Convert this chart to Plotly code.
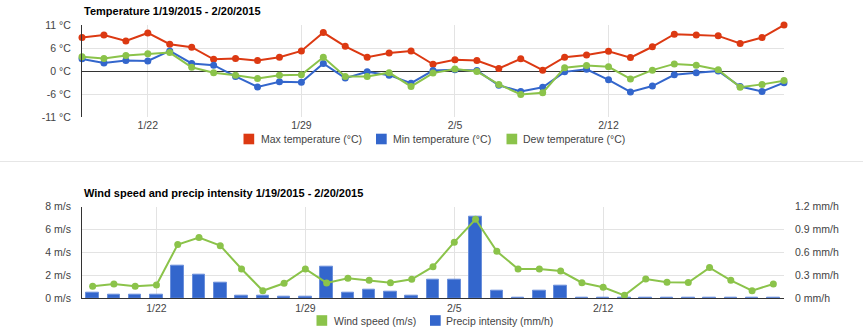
import plotly.graph_objects as go
import pandas as pd

dates = pd.date_range("2015-01-19", "2015-02-20", freq="D")

max_temp = [8.0, 8.6, 7.2, 9.1, 6.4, 5.7, 2.8, 3.0, 2.5, 3.3, 4.8, 9.2, 5.9, 3.3, 4.3, 4.8, 1.6,
            2.7, 2.5, 0.6, 2.9, 0.2, 3.3, 3.8, 4.7, 3.2, 5.8, 8.8, 8.6, 8.4, 6.6, 8.0, 11.0]
min_temp = [2.9, 1.9, 2.5, 2.4, 4.8, 1.8, 1.4, -1.3, -3.8, -2.6, -2.7, 1.8, -1.7, -0.2, -1.0, -2.9, 0.1,
            0.3, 0.1, -3.4, -4.9, -3.9, -0.2, 0.4, -2.1, -5.0, -3.6, -0.9, -0.4, 0.0, -3.7, -4.9, -2.8]
dew_temp = [3.4, 3.0, 3.7, 4.1, 4.4, 0.9, -0.4, -1.0, -1.8, -1.0, -0.9, 3.3, -1.3, -1.3, -0.4, -3.7, -0.5,
            0.5, -0.1, -3.2, -5.6, -5.2, 0.8, 1.3, 1.0, -1.9, 0.2, 1.7, 1.4, 0.3, -3.9, -3.2, -2.3]
wind = [1.05, 1.25, 1.05, 1.16, 4.7, 5.3, 4.6, 2.56, 0.66, 1.31, 2.56, 1.34, 1.75, 1.57, 1.36, 1.66, 2.76,
        4.9, 6.9, 4.1, 2.56, 2.56, 2.38, 1.36, 0.96, 0.26, 1.69, 1.4, 1.37, 2.68, 1.57, 0.67, 1.25]
precip = [0.079, 0.047, 0.047, 0.047, 0.43, 0.315, 0.205, 0.03, 0.039, 0.017, 0.017, 0.42, 0.073, 0.109,
          0.087, 0.039, 0.24, 0.244, 1.07, 0.096, 0.008, 0.096, 0.165, 0.004, 0.004, 0.004, 0.004, 0.004,
          0.004, 0.004, 0.004, 0.004, 0.004]

x_tick_vals = ["2015-01-22", "2015-01-29", "2015-02-05", "2015-02-12"]
x_tick_text = ["1/22", "1/29", "2/5", "2/12"]
temp_tick_vals = [-11, -5.5, 0, 5.5, 11]
temp_tick_text = ["-11 °C", "-6 °C", "0 °C", "6 °C", "11 °C"]
wind_tick_vals = [0, 2, 4, 6, 8]
wind_tick_text = ["0 m/s", "2 m/s", "4 m/s", "6 m/s", "8 m/s"]
precip_tick_vals = [0, 0.3, 0.6, 0.9, 1.2]
precip_tick_text = ["0 mm/h", "0.3 mm/h", "0.6 mm/h", "0.9 mm/h", "1.2 mm/h"]

RED = "#dc3912"
BLUE = "#3366cc"
GREEN = "#8bc34a"
W, H = 863, 333
FONT = "Liberation Sans, Arial, sans-serif"
TXT = "#444444"
GRID = "#e3e3e3"

def px(x):
    return x / W

def py(y):
    return 1 - y / H

fig = go.Figure()
for name, vals, col in [("Max temperature (°C)", max_temp, RED),
                        ("Min temperature (°C)", min_temp, BLUE),
                        ("Dew temperature (°C)", dew_temp, GREEN)]:
    fig.add_trace(go.Scatter(x=dates, y=vals, name=name, mode="lines+markers",
                             line=dict(color=col, width=2), marker=dict(color=col, size=7),
                             xaxis="x", yaxis="y", cliponaxis=False, showlegend=False))

fig.add_trace(go.Bar(x=dates, y=precip, name="Precip intensity (mm/h)",
                     marker=dict(color=BLUE, line=dict(color="#6a8fdb", width=1)),
                     width=0.59 * 86400000, xaxis="x2", yaxis="y2", showlegend=False))
fig.add_trace(go.Scatter(x=dates, y=wind, name="Wind speed (m/s)", mode="lines+markers",
                         line=dict(color=GREEN, width=2), marker=dict(color=GREEN, size=7),
                         xaxis="x2", yaxis="y3", cliponaxis=False, showlegend=False))

xdom = [px(82), px(784)]
top_dom = [py(117), py(25)]
bot_dom = [py(298.3), py(206.7)]
tickfont = dict(family=FONT, size=10.5, color=TXT)

fig.update_layout(
    width=W, height=H, margin=dict(l=0, r=0, t=0, b=0, autoexpand=False),
    paper_bgcolor="white", plot_bgcolor="white", showlegend=False,
    font=dict(family=FONT, size=11, color=TXT),
    bargap=0,
    xaxis=dict(domain=xdom, anchor="y", type="date", range=["2015-01-19", "2015-02-20"],
               tickvals=x_tick_vals, ticktext=x_tick_text, showgrid=True, gridcolor=GRID,
               zeroline=False, showline=False, ticks="", tickfont=tickfont, ticklabelstandoff=0,
               automargin=False),
    yaxis=dict(domain=top_dom, anchor="x", range=[-11, 11], tickvals=temp_tick_vals,
               ticktext=temp_tick_text, showgrid=True, gridcolor=GRID, gridwidth=1,
               zeroline=True, zerolinecolor="#333333", zerolinewidth=1,
               showline=True, linecolor="#333333", linewidth=1, ticks="",
               tickfont=tickfont, ticklabelstandoff=8, automargin=False),
    xaxis2=dict(domain=xdom, anchor="y2", type="date",
                range=["2015-01-18 12:00", "2015-02-20 12:00"],
                tickvals=x_tick_vals, ticktext=x_tick_text, showgrid=True, gridcolor=GRID,
                zeroline=False, showline=True, linecolor="#333333", linewidth=1, ticks="",
                tickfont=tickfont, ticklabelstandoff=0, automargin=False),
    yaxis2=dict(domain=bot_dom, anchor="x2", side="right", range=[0, 1.2],
                tickvals=precip_tick_vals, ticktext=precip_tick_text, showgrid=True,
                gridcolor=GRID, zeroline=False, showline=False, ticks="",
                tickfont=tickfont, ticklabelstandoff=10, automargin=False),
    yaxis3=dict(overlaying="y2", anchor="x2", side="left", range=[0, 8],
                tickvals=wind_tick_vals, ticktext=wind_tick_text, showgrid=False,
                zeroline=False, showline=True, linecolor="#333333", linewidth=1, ticks="",
                tickfont=tickfont, ticklabelstandoff=8, automargin=False),
)

annotations = [
    dict(text="<b>Temperature 1/19/2015 - 2/20/2015</b>", x=px(82), y=py(10.5),
         font=dict(family=FONT, size=11, color="#000000")),
    dict(text="<b>Wind speed and precip intensity 1/19/2015 - 2/20/2015</b>", x=px(82), y=py(193),
         font=dict(family=FONT, size=11, color="#000000")),
]
shapes = [dict(type="line", xref="paper", yref="paper", x0=0, x1=1, y0=py(161.5), y1=py(161.5),
               line=dict(color="#e6e6e6", width=1))]

legend_items = [
    ("Max temperature (°C)", RED, 243.5, 258.5, 139),
    ("Min temperature (°C)", BLUE, 376, 391, 139),
    ("Dew temperature (°C)", GREEN, 506.5, 521, 139),
    ("Wind speed (m/s)", GREEN, 316.5, 331.5, 320.5),
    ("Precip intensity (mm/h)", BLUE, 430, 444.5, 320.5),
]
for label, col, sx, tx, cy in legend_items:
    shapes.append(dict(type="rect", xref="paper", yref="paper", x0=px(sx), x1=px(sx + 10.7),
                       y0=py(cy + 5.3), y1=py(cy - 5.3), fillcolor=col, line=dict(width=0)))
    annotations.append(dict(text=label, x=px(tx), y=py(cy),
                            font=dict(family=FONT, size=10.5, color=TXT)))

for a in annotations:
    a.update(xref="paper", yref="paper", xanchor="left", yanchor="middle", showarrow=False)

fig.update_layout(annotations=annotations, shapes=shapes)
fig.write_html("out.html")
